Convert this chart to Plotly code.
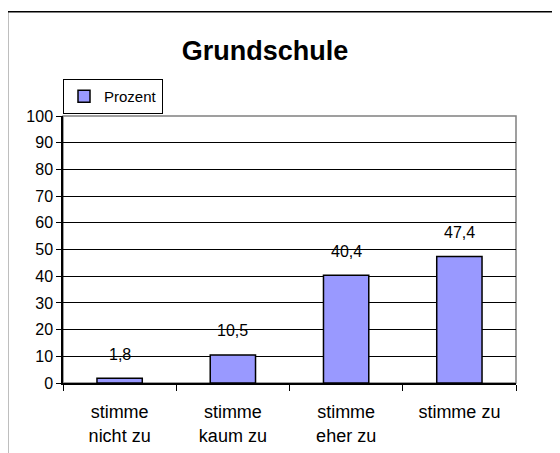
import plotly.graph_objects as go

categories = ["stimme<br>nicht zu", "stimme<br>kaum zu", "stimme<br>eher zu", "stimme zu"]
prozent = [1.8, 10.5, 40.4, 47.4]
y_ticks = list(range(0, 101, 10))

FONT = "Liberation Sans, Arial, sans-serif"

fig = go.Figure()
fig.add_bar(
    x=categories, y=prozent, name="Prozent",
    marker=dict(color="#9999FF", line=dict(color="black", width=1.5)),
    width=0.4,
)

# value labels above the bars, German decimal comma
for cat, v in zip(categories, prozent):
    fig.add_annotation(
        x=cat, y=v, text=f"{v:.1f}".replace(".", ","), showarrow=False,
        yanchor="middle", yshift=24, font=dict(family=FONT, size=16, color="black"),
    )

# outer chart frame and grey plot-area frame
fig.add_shape(type="rect", xref="paper", yref="paper", x0=-0.1225, x1=1.3, y0=-0.5, y1=1.39,
              line=dict(color="black", width=1.5), layer="below")
fig.add_shape(type="rect", xref="paper", yref="paper", x0=0, x1=1, y0=0, y1=1,
              line=dict(color="#808080", width=1.5), layer="below")

fig.update_layout(
    width=560, height=453,
    margin=dict(l=55, r=52, t=108, b=78),
    paper_bgcolor="white", plot_bgcolor="white",
    font=dict(family=FONT, color="black"),
    title=dict(text="<b>Grundschule</b>", x=0.459, xref="container", xanchor="center",
               y=0.907, yref="container", yanchor="middle",
               font=dict(family=FONT, size=27, color="black")),
    showlegend=True,
    legend=dict(x=0.0, y=1.139, xanchor="left", yanchor="top",
                bordercolor="black", borderwidth=1, bgcolor="white",
                font=dict(family=FONT, size=15), itemwidth=30,
                tracegroupgap=0),
    bargap=0.6,
)
fig.update_yaxes(
    range=[0, 100], tickvals=y_ticks, showgrid=True, gridcolor="black", gridwidth=1,
    showline=True, linecolor="black", linewidth=1.5, ticks="outside", ticklen=5,
    tickcolor="black", tickfont=dict(size=16), zeroline=False,
)
fig.update_xaxes(
    showline=True, linecolor="black", linewidth=1.5, ticks="outside", ticklen=6,
    tickson="boundaries", tickcolor="black", tickfont=dict(size=18),
    ticklabelstandoff=12,
)

fig.write_html("out.html")
